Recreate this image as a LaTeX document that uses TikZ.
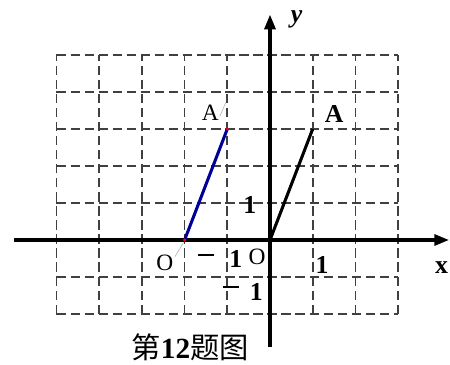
\documentclass[tikz,border=0pt]{standalone}
\usepackage{fontspec}
\setmainfont{Liberation Serif}
\newfontfamily\cjk{Noto Sans CJK SC}
\usetikzlibrary{arrows.meta}
\newcommand{\minussign}{\rule[0.25em]{0.7em}{0.09em}}

\begin{document}
\begin{tikzpicture}[x=1.281cm,y=1.11cm,
  gridline/.style={dashed,dash pattern=on 8pt off 4pt,line width=1.5pt,black!75},
  axis/.style={-{Triangle[length=4.5mm,width=3.2mm]},line width=3.4pt},
  seg/.style={line width=2.6pt},
  primemark/.style={gray!60,line width=0.5pt},
  lbl/.style={font=\fontsize{20}{22}\selectfont,inner sep=0pt},
  num/.style={font=\fontsize{22}{24}\selectfont\bfseries,inner sep=0pt}]
  \useasboundingbox (-6.323,-3.378) rectangle (4.215,6.486);
  % grid
  \foreach \i in {-5,...,3} \draw[gridline] (\i,-2) -- (\i,5);
  \foreach \j in {-2,...,5} \draw[gridline] (-5,\j) -- (3,\j);
  % axes
  \coordinate (xs) at (-6.0,0);
  \coordinate (xe) at (4.2,0);
  \coordinate (ys) at (0,-2.9);
  \coordinate (ye) at (0,6.1);
  \draw[axis] (xs) -- (xe);
  \draw[axis] (ys) -- (ye);
  \node[num,font=\fontsize{22}{24}\selectfont\bfseries\itshape] (ylab) at (0.62,5.95) {y};
  \node[num] (xlab) at (4.02,-0.75) {x};
  % points
  \coordinate (O) at (0,0);
  \coordinate (A) at (1,3);
  \coordinate (Op) at (-2,0);
  \coordinate (Ap) at (-1,3);
  \draw[seg] (O) -- (A);
  \draw[seg,blue!60!black] (Op) -- (Ap);
  \fill[red] (Op) circle (1.4pt);
  \fill[red] (Ap) circle (1.4pt);
  % labels
  \node[num] (Alab) at (1.5,3.4) {A};
  \node[lbl] (Aplab) at (-1.4,3.45) {A};
  \draw[primemark] (Aplab.south east) ++(0.02,0.1) -- ++(0.14,0.38);
  \node[lbl] (Oplab) at (-2.46,-0.62) {O};
  \draw[primemark] (Oplab.north east) ++(0.03,-0.05) -- ++(0.2,0.38);
  \node[lbl] (Olab) at (-0.3,-0.46) {O};
  \node[lbl] (xm1s) at (-1.5,-0.48) {\minussign};
  \node[num] (xm1) at (-0.8,-0.5) {1};
  \node[num] (x1) at (1.22,-0.68) {1};
  \node[num] (y1) at (-0.47,0.95) {1};
  \node[lbl] (ym1s) at (-0.92,-1.36) {\minussign};
  \node[num] (ym1) at (-0.32,-1.4) {1};
  \node[lbl,font=\fontsize{25}{27}\selectfont] (cap) at (-1.87,-2.9) {\cjk 第\textbf{\rmfamily 12}题图};
\end{tikzpicture}
\end{document}
